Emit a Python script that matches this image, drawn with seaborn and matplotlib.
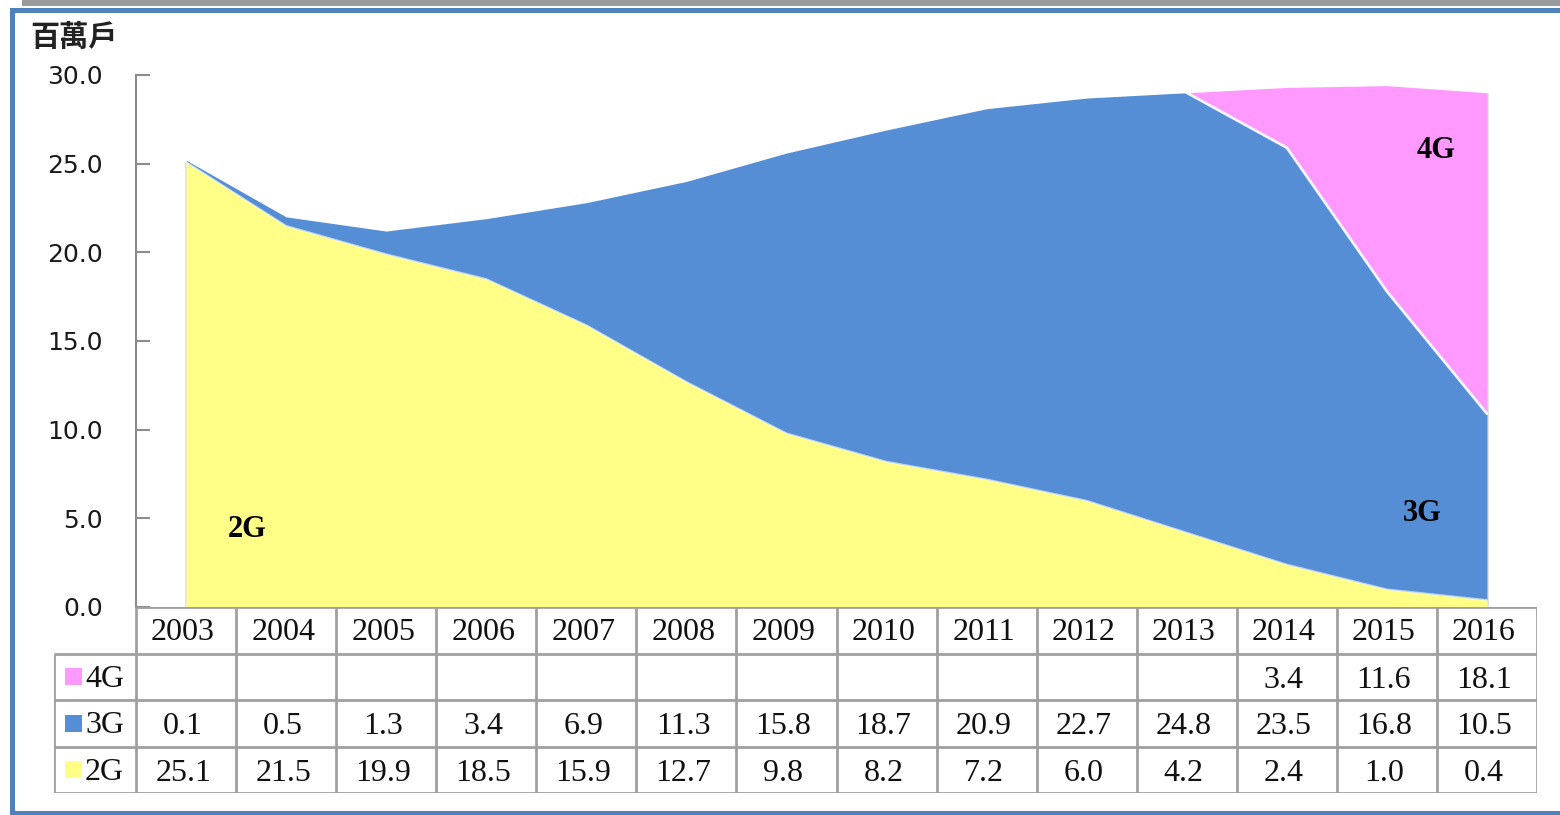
import numpy as np
import matplotlib
matplotlib.use("Agg")
import matplotlib.pyplot as plt
from matplotlib.patches import Rectangle
import seaborn as sns

# ---- data ----
years = ["2003", "2004", "2005", "2006", "2007", "2008", "2009",
         "2010", "2011", "2012", "2013", "2014", "2015", "2016"]
g2 = [25.1, 21.5, 19.9, 18.5, 15.9, 12.7, 9.8, 8.2, 7.2, 6.0, 4.2, 2.4, 1.0, 0.4]
g3 = [0.1, 0.5, 1.3, 3.4, 6.9, 11.3, 15.8, 18.7, 20.9, 22.7, 24.8, 23.5, 16.8, 10.5]
g4 = [None, None, None, None, None, None, None, None, None, None, None, 3.4, 11.6, 18.1]
series_names = ["2G", "3G", "4G"]
colors = {"2G": "#FFFF88", "3G": "#558ED5", "4G": "#FF99FF"}
yticks = [0, 5, 10, 15, 20, 25, 30]
unit_label = "百萬戶"

sns.set_theme(style="white")
plt.rcParams["font.family"] = ["DejaVu Sans"]

W, H = 1560, 815
fig = plt.figure(figsize=(W / 100, H / 100), dpi=100)
fig.patch.set_facecolor("white")

def fx(px):
    return px / W

def fy(py):
    return 1 - py / H

# ---- frame decorations ----
fig.patches.append(Rectangle((fx(22), fy(6)), fx(W - 22), 6 / H, transform=fig.transFigure,
                             facecolor="#9a9a9a", edgecolor="none", zorder=0))
fig.patches.append(Rectangle((fx(10), fy(13)), fx(W - 10), 5 / H, transform=fig.transFigure,
                             facecolor="#4F81BD", edgecolor="none", zorder=0))
fig.patches.append(Rectangle((fx(10), 0), fx(5), fy(13), transform=fig.transFigure,
                             facecolor="#4F81BD", edgecolor="none", zorder=0))
fig.patches.append(Rectangle((fx(10), 0), fx(W - 10), 4 / H, transform=fig.transFigure,
                             facecolor="#4F81BD", edgecolor="none", zorder=0))

# ---- main area chart ----
x0, x1 = 136, 1537
ytop, ybot = 75, 607
ax = fig.add_axes([fx(x0), fy(ybot), fx(x1 - x0), (ybot - ytop) / H])
x = np.arange(len(years))
g4_area = np.array([0.0 if v is None else v for v in g4])
first = next(i for i, v in enumerate(g4) if v is not None)
g4_mask = np.arange(len(years)) >= first - 1

base2 = np.zeros(len(years))
top2 = np.array(g2)
top3 = top2 + np.array(g3)
top4 = top3 + g4_area

ax.fill_between(x, base2, top2, color=colors["2G"], lw=0, zorder=2)
ax.fill_between(x, top2, top3, color=colors["3G"], lw=0, zorder=2)
ax.fill_between(x, top3, top4, where=g4_mask, color=colors["4G"], lw=0, zorder=2)
ax.plot(x, top2, color="white", lw=1.2, alpha=0.6, zorder=3)
ax.plot(x[g4_mask], top3[g4_mask], color="white", lw=2.0, alpha=0.9, zorder=3)
ax.vlines([x[0], x[-1]], 0, [top2[0], top4[-1]], color="#e0e0e0", lw=2, zorder=1.5)

ax.set_xlim(-0.5, len(years) - 0.5)
ax.set_ylim(0, 30)
ax.set_xticks([])
ax.set_yticks(yticks)
ax.set_yticklabels([f"{v:.1f}" for v in yticks], fontsize=18, color="#1a1a1a")
ax.tick_params(axis="y", direction="in", length=10, width=1.5, color="#8c8c8c", pad=24, left=True)
for s in ["top", "right", "bottom"]:
    ax.spines[s].set_visible(False)
ax.spines["left"].set_color("#8c8c8c")
ax.spines["left"].set_linewidth(1.5)
ax.set_facecolor("none")
ax.patch.set_alpha(0)

lab_kw = dict(fontsize=22, fontweight="bold", family=["Liberation Serif"],
              ha="center", va="center", color="black", zorder=5)
ax.text(0.61, 4.35, "2G", **lab_kw)
ax.text(12.35, 5.3, "3G", **lab_kw)
ax.text(12.49, 25.75, "4G", **lab_kw)

fig.text(fx(30), fy(37), unit_label, fontsize=21, fontweight="bold",
         family=["Noto Sans CJK TC"], ha="left", va="center", color="#222222")

# ---- data table ----
tl, tb = 54, 793
tax = fig.add_axes([fx(tl), fy(tb), fx(x1 - tl), (tb - ybot) / H])
left_edge = -0.5 - (x0 - tl) / 100
tax.set_xlim(left_edge, len(years) - 0.5)
tax.set_ylim(0, 4)
tax.axis("off")
gc = "#a0a0a0"
lw = 2
n = len(years)
tax.hlines([0, 1, 2, 3], left_edge, n - 0.5, color=gc, lw=lw)
tax.hlines([4], -0.5, n - 0.5, color=gc, lw=lw)
tax.vlines(np.arange(n + 1) - 0.5, 0, 4, color=gc, lw=lw)
tax.vlines([left_edge], 0, 3, color=gc, lw=lw)

tkw = dict(fontsize=23, family=["Liberation Serif"], ha="center", va="center", color="#111111")
for i, yr in enumerate(years):
    tax.text(i - 0.03, 3.45, yr, **tkw)

rows = [("4G", g4, 2), ("3G", g3, 1), ("2G", g2, 0)]
for name, vals, r in rows:
    tax.add_patch(Rectangle((left_edge + 0.11, r + 0.32), 0.17, 0.36,
                            facecolor=colors[name], edgecolor="none"))
    tax.text(left_edge + 0.31, r + 0.45, name, fontsize=23, family=["Liberation Serif"],
             ha="left", va="center", color="#111111")
    for i, v in enumerate(vals):
        if v is not None:
            tax.text(i - 0.03, r + 0.43, f"{v:.1f}", **tkw)

fig.savefig("out.png", dpi=100, facecolor="white")
